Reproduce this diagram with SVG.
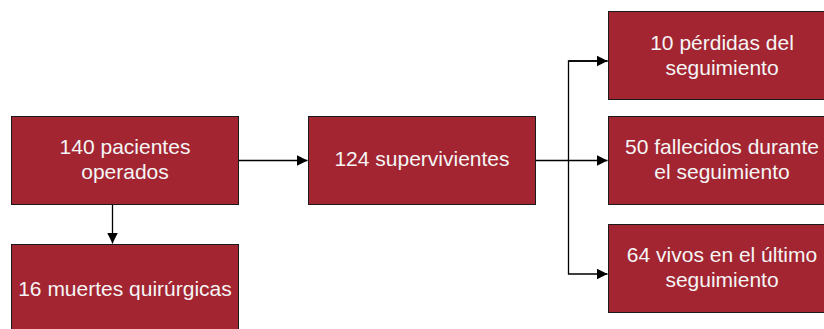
<svg xmlns="http://www.w3.org/2000/svg" width="824" height="329" viewBox="0 0 824 329">
<style>
.box{fill:#A32532;stroke:#1a1a1a;stroke-width:1}
.t{font-family:"Liberation Sans",Arial,sans-serif;font-size:21px;fill:#F5F5F5;text-anchor:middle}
.c{fill:none;stroke:#000;stroke-width:1.3}
</style>
<defs>
<marker id="ah" markerWidth="11" markerHeight="12" refX="11" refY="6" orient="auto" markerUnits="userSpaceOnUse">
<path d="M0,0.5 L11,6 L0,11.5 Z" fill="#000"/>
</marker>
</defs>
<g id="connectors">
<path class="c" d="M239,160.5 H307.5" marker-end="url(#ah)"/>
<path class="c" d="M112.5,205 V243.5" marker-end="url(#ah)"/>
<path class="c" d="M536,160.5 H607.5" marker-end="url(#ah)"/>
<path class="c" d="M607.5,61 H568.5 V274 H607.5" marker-end="url(#ah)"/>
<path class="c" d="M568.5,61 H607.5" marker-end="url(#ah)"/>
</g>
<g id="n1">
<rect class="box" x="11.5" y="116.5" width="227" height="88"/>
<text class="t" x="125" y="154">140 pacientes</text>
<text class="t" x="125" y="179">operados</text>
</g>
<g id="n2">
<rect class="box" x="11.5" y="244.5" width="227" height="88"/>
<text class="t" x="125" y="295.5">16 muertes quirúrgicas</text>
</g>
<g id="n3">
<rect class="box" x="308.5" y="116.5" width="227" height="88"/>
<text class="t" x="422" y="166">124 supervivientes</text>
</g>
<g id="n4">
<rect class="box" x="608.5" y="11.5" width="227" height="88"/>
<text class="t" x="722" y="50">10 pérdidas del</text>
<text class="t" x="722" y="75">seguimiento</text>
</g>
<g id="n5">
<rect class="box" x="608.5" y="116.5" width="227" height="88"/>
<text class="t" x="722" y="154">50 fallecidos durante</text>
<text class="t" x="722" y="179">el seguimiento</text>
</g>
<g id="n6">
<rect class="box" x="608.5" y="224.5" width="227" height="88"/>
<text class="t" x="722" y="262">64 vivos en el último</text>
<text class="t" x="722" y="287">seguimiento</text>
</g>
</svg>
